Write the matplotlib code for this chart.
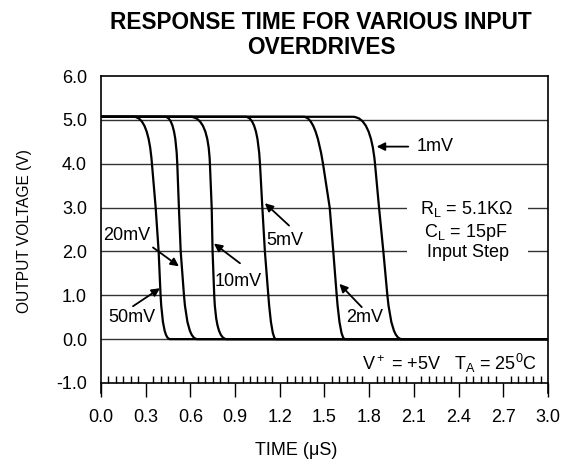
import matplotlib
matplotlib.use('Agg')
import matplotlib.pyplot as plt
from matplotlib.path import Path
from matplotlib.patches import PathPatch, Rectangle
from matplotlib.ticker import MultipleLocator

plt.rcParams['font.family'] = ['Liberation Sans', 'DejaVu Sans']
plt.rcParams['mathtext.fontset'] = 'custom'
plt.rcParams['mathtext.rm'] = 'Liberation Sans'
plt.rcParams['mathtext.it'] = 'Liberation Sans:italic'

# overdrive curves (time in uS at given output voltage)
labels = ['50mV', '20mV', '10mV', '5mV', '2mV', '1mV']
v_high = 5.07
t_leave = [0.22, 0.43, 0.60, 0.97, 1.36, 1.69]     # leaves the 5V level
t_ctop = [0.318, 0.50, 0.72, 1.05, 1.44, 1.81]     # top knee corner
t_at4 = [0.342, 0.512, 0.731, 1.067, 1.490, 1.839]
t_at3 = [0.367, 0.523, 0.743, 1.083, 1.535, 1.866]
t_at2 = [0.387, 0.535, 0.749, 1.100, 1.559, 1.895]
t_at1 = [0.400, 0.557, 0.760, 1.123, 1.582, 1.922]
t_cbot = [0.415, 0.580, 0.772, 1.145, 1.605, 1.950]  # bottom knee corner
t_land = [0.463, 0.646, 0.843, 1.174, 1.637, 2.018]  # reaches 0V
t_end = 3.0

x_ticks = [0.0, 0.3, 0.6, 0.9, 1.2, 1.5, 1.8, 2.1, 2.4, 2.7, 3.0]
y_ticks = [-1.0, 0.0, 1.0, 2.0, 3.0, 4.0, 5.0, 6.0]

fig = plt.figure(figsize=(5.66, 4.66), dpi=100)
ax = fig.add_axes([0.1784, 0.1567, 0.7898, 0.6802])

for i in range(len(labels)):
    verts = [(0.0, v_high), (t_leave[i], v_high),
             (t_ctop[i], v_high), (t_at4[i], 4.0),
             (t_at3[i], 3.0), (t_at2[i], 2.0), (t_at1[i], 1.0),
             (t_cbot[i], 0.0), (t_land[i], 0.0), (t_end, 0.0)]
    codes = [Path.MOVETO, Path.LINETO, Path.CURVE3, Path.CURVE3,
             Path.LINETO, Path.LINETO, Path.LINETO,
             Path.CURVE3, Path.CURVE3, Path.LINETO]
    ax.add_patch(PathPatch(Path(verts, codes), fill=False, lw=1.6,
                           edgecolor='black', zorder=3))

ax.set_xlim(0, 3.0)
ax.set_ylim(-1.228, 6.0)
ax.set_xticks(x_ticks)
ax.set_xticklabels(['%.1f' % t for t in x_ticks])
ax.xaxis.set_minor_locator(MultipleLocator(0.05))
ax.set_yticks(y_ticks)
ax.set_yticklabels(['%.1f' % v for v in y_ticks])

for v in y_ticks[1:-1]:
    ax.axhline(v, color='#333333', lw=1.0, zorder=1)

ax.spines['bottom'].set_position(('data', -1.0))
for s in ax.spines.values():
    s.set_linewidth(1.2)
ax.tick_params(axis='x', which='major', direction='out', length=10,
               width=1.0, labelsize=13, pad=9)
ax.tick_params(axis='x', which='minor', direction='in', length=5, width=1.0)
ax.tick_params(axis='y', length=0, labelsize=13, pad=10)

# white box that breaks the grid behind the conditions text
ax.add_patch(Rectangle((2.053, 1.7), 0.812, 1.6, facecolor='white',
                       edgecolor='none', zorder=2))
ax.text(2.45, 2.97, r'R$_\mathrm{L}$ = 5.1K$\Omega$', ha='center', va='center',
        fontsize=13, zorder=4)
ax.text(2.45, 2.44, r'C$_\mathrm{L}$ = 15pF', ha='center', va='center',
        fontsize=13, zorder=4)
ax.text(2.465, 1.98, 'Input Step', ha='center', va='center',
        fontsize=13, zorder=4)
ax.text(2.926, -0.55, r'V$^+$ = +5V   T$_\mathrm{A}$ = 25$^0$C', ha='right',
        va='center', fontsize=13, zorder=4)

arrow = dict(arrowstyle='-|>', color='black', lw=1.3, mutation_scale=12,
             shrinkA=0, shrinkB=0)
# label, text position, arrow tail, arrow tip
notes = [
    ('1mV', (2.117, 4.39), (2.062, 4.39), (1.85, 4.39), 'left'),
    ('5mV', (1.235, 2.25), (1.262, 2.59), (1.10, 3.10), 'center'),
    ('20mV', (0.175, 2.36), (0.349, 2.09), (0.523, 1.66), 'center'),
    ('10mV', (0.92, 1.32), (0.933, 1.73), (0.758, 2.18), 'center'),
    ('50mV', (0.208, 0.50), (0.215, 0.75), (0.396, 1.16), 'center'),
    ('2mV', (1.768, 0.50), (1.75, 0.73), (1.60, 1.26), 'center'),
]
for txt, pos, tail, tip, ha in notes:
    ax.annotate('', xy=tip, xytext=tail, arrowprops=arrow, zorder=4)
    ax.text(pos[0], pos[1], txt, ha=ha, va='center', fontsize=13, zorder=4)

fig.text(0.567, 0.925, 'RESPONSE TIME FOR VARIOUS INPUT\nOVERDRIVES',
         ha='center', va='center', fontsize=16.3, fontweight='bold',
         linespacing=1.12)
fig.text(0.044, 0.505, 'OUTPUT VOLTAGE (V)', rotation=90, ha='center',
         va='center', fontsize=11.2)
fig.text(0.524, 0.034, 'TIME (\u03bcS)', ha='center', va='center',
         fontsize=13)

fig.savefig('out.png', dpi=100)
